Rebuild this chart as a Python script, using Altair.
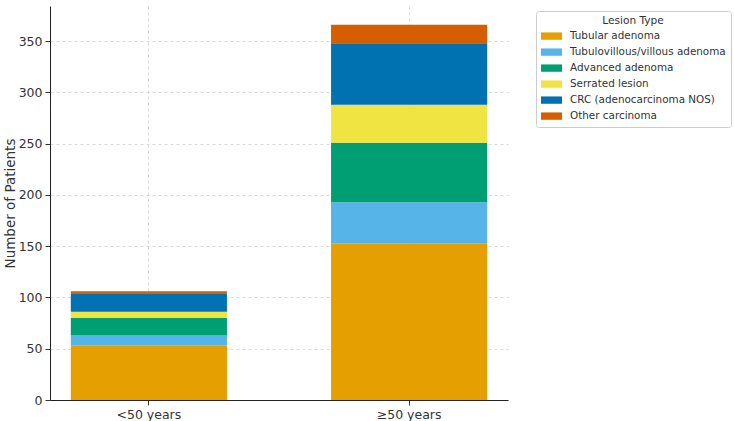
import altair as alt
import pandas as pd

groups = ["<50 years", "≥50 years"]
lesion_types = [
    "Tubular adenoma",
    "Tubulovillous/villous adenoma",
    "Advanced adenoma",
    "Serrated lesion",
    "CRC (adenocarcinoma NOS)",
    "Other carcinoma",
]
colors = ["#E69F00", "#56B4E9", "#009E73", "#F0E442", "#0072B2", "#D55E00"]
under50 = [53, 10, 17, 6, 18, 2]
over50 = [153, 40, 58, 37, 60, 18]

rows = []
for i, t in enumerate(lesion_types):
    rows.append({"group": groups[0], "type": t, "count": under50[i], "order": i})
    rows.append({"group": groups[1], "type": t, "count": over50[i], "order": i})
df = pd.DataFrame(rows)

font = "DejaVu Sans"

chart = (
    alt.Chart(df)
    .mark_bar()
    .encode(
        x=alt.X(
            "group:N",
            sort=groups,
            scale=alt.Scale(paddingInner=0.4, paddingOuter=0.08),
            axis=alt.Axis(
                title=None,
                labelAngle=0,
                grid=True,
                gridDash=[3, 3],
                gridColor="#d0d0d0",
                gridWidth=0.8,
                tickColor="#333333",
                tickSize=5,
                labelFontSize=12.5,
                labelPadding=3,
                domainColor="#222222",
            ),
        ),
        y=alt.Y(
            "count:Q",
            stack="zero",
            scale=alt.Scale(domain=[0, 384.3], nice=False, zero=True),
            axis=alt.Axis(
                title="Number of Patients",
                values=[0, 50, 100, 150, 200, 250, 300, 350],
                grid=True,
                gridDash=[3, 3],
                gridColor="#d0d0d0",
                gridWidth=0.8,
                tickColor="#333333",
                tickSize=5,
                labelFontSize=12.5,
                labelPadding=3,
                titleFontSize=13.5,
                titleFontWeight="normal",
                titlePadding=1,
                domainColor="#222222",
            ),
        ),
        color=alt.Color(
            "type:N",
            sort=lesion_types,
            scale=alt.Scale(domain=lesion_types, range=colors),
            legend=alt.Legend(
                title="Lesion Type",
                orient="none",
                legendX=486,
                legendY=5,
                fillColor="white",
                strokeColor="#cccccc",
                cornerRadius=3,
                padding=5,
                symbolType="M-1,-0.35L1,-0.35L1,0.35L-1,0.35Z",
                symbolSize=441,
                symbolStrokeWidth=0,
                labelFontSize=10.4,
                labelLimit=0,
                titleFontSize=10.6,
                titleFontWeight="normal",
                titleAnchor="middle",
                titleAlign="center",
                titlePadding=-1,
                rowPadding=0,
                labelOffset=8,
            ),
        ),
        order=alt.Order("order:Q", sort="ascending"),
    )
    .properties(
        width=458,
        height=394,
        autosize=alt.AutoSizeParams(type="none"),
        padding={"left": 50, "top": 6, "right": 226, "bottom": 21},
    )
    .configure(font=font)
    .configure_view(stroke=None)
    .configure_axis(labelColor="#333333", titleColor="#333333", labelFont=font, titleFont=font)
    .configure_legend(labelColor="#333333", titleColor="#333333", labelFont=font, titleFont=font)
)

chart.save("out.html", embed_options={"renderer": "svg", "actions": False})
